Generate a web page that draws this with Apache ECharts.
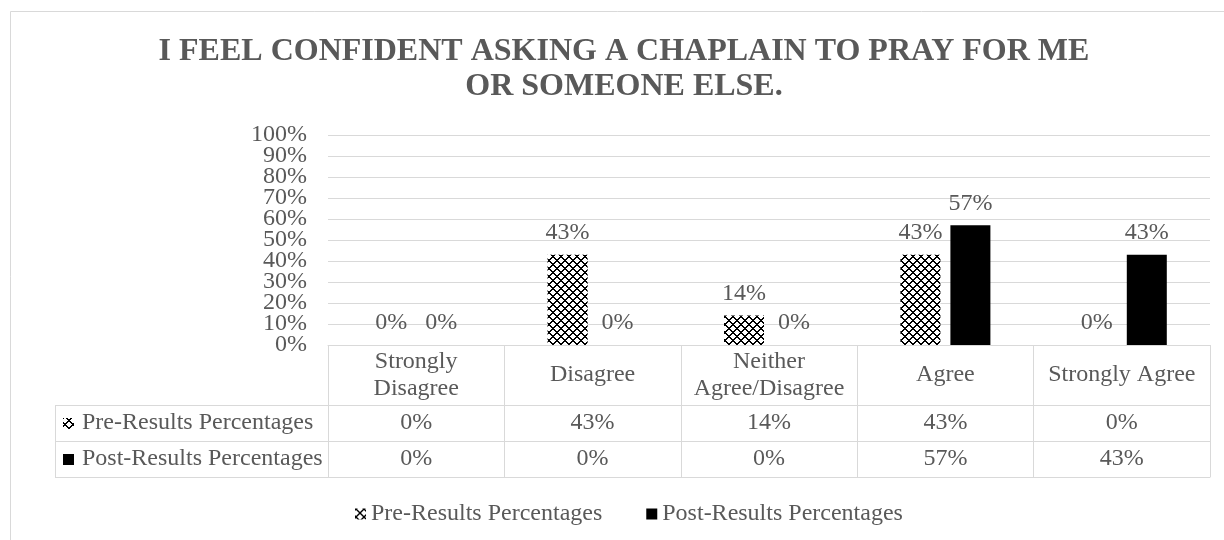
<!DOCTYPE html>
<html>
<head>
<meta charset="utf-8">
<script src="https://cdn.jsdelivr.net/npm/echarts@6/dist/echarts.min.js"></script>
<style>
  html, body { margin: 0; padding: 0; background: #ffffff; }
  #chart { width: 1224px; height: 540px; }
</style>
</head>
<body>
<div id="chart"></div>
<script>
// Survey responses, before and after the programme
const titleText = 'I FEEL CONFIDENT ASKING A CHAPLAIN TO PRAY FOR ME\nOR SOMEONE ELSE.';
const categories = ['Strongly Disagree', 'Disagree', 'Neither Agree/Disagree', 'Agree', 'Strongly Agree'];
const seriesNames = ['Pre-Results Percentages', 'Post-Results Percentages'];
const preValues = [0, 0.43, 0.14, 0.43, 0];
const postValues = [0, 0, 0, 0.57, 0.43];
const yTickLabels = ['0%', '10%', '20%', '30%', '40%', '50%', '60%', '70%', '80%', '90%', '100%'];
const yMax = 1;
const yStep = 0.1;

const FONT = '"Times New Roman", "Liberation Serif", serif';
const TEXT = '#595959';
const RULE = '#d9d9d9';

// Layout of plot and data table
const GRID_LEFT = 328, GRID_RIGHT = 14, PLOT_TOP = 135, AXIS_Y = 345;
const ROW_OFFSETS = [60, 96, 132];          // table row rules below the axis
const TABLE_LEFT = 55, KEY_TEXT_X = 82, KEY_ICON_X = 63;
const HEADER_WIDTH = 166;

const pct = v => Math.round(v * 100) + '%';

// Header cells wrap onto two lines at the first space when too wide
const measureCtx = document.createElement('canvas').getContext('2d');
measureCtx.font = '24px ' + FONT;
function wrapHeader(name) {
  if (measureCtx.measureText(name).width <= HEADER_WIDTH) return name;
  const i = name.indexOf(' ');
  return i < 0 ? name : name.slice(0, i) + '\n' + name.slice(i + 1);
}

// Cross-hatched fill used for the "pre" series
function makeHatch() {
  const c = document.createElement('canvas');
  c.width = 8; c.height = 8;
  const g = c.getContext('2d');
  g.fillStyle = '#ffffff'; g.fillRect(0, 0, 8, 8);
  g.fillStyle = '#000000';
  for (let y = 0; y < 8; y++) {
    for (let x = 0; x < 8; x++) {
      if ((x + y) % 8 < 2 || ((x - y + 8) % 8) < 2) g.fillRect(x, y, 1, 1);
    }
  }
  return c;
}
const hatch = { image: makeHatch(), repeat: 'repeat' };
const seriesFills = [hatch, '#000000'];
const seriesValues = [preValues, postValues];

const textStyle = { fontFamily: FONT, fontSize: 24, color: TEXT };

const chart = echarts.init(document.getElementById('chart'), null, { renderer: 'canvas' });

function tableAxis(offset, values, margin) {
  return {
    type: 'category',
    data: categories,
    position: 'bottom',
    offset: offset,
    axisLine: { show: true, lineStyle: { color: RULE, width: 1 } },
    axisTick: { show: false },
    splitLine: { show: false },
    axisLabel: values ? Object.assign({}, textStyle, {
      interval: 0, margin: margin, verticalAlign: 'middle',
      formatter: (v, i) => pct(values[i])
    }) : { show: false }
  };
}

const rowTop = [AXIS_Y + ROW_OFFSETS[0], AXIS_Y + ROW_OFFSETS[1]];
const rowBottom = [AXIS_Y + ROW_OFFSETS[1], AXIS_Y + ROW_OFFSETS[2]];

const keyGraphics = [];
// Row rules and left edge of the series key column
ROW_OFFSETS.forEach(o => {
  keyGraphics.push({
    type: 'line', silent: true,
    shape: { x1: TABLE_LEFT, y1: AXIS_Y + o + 0.5, x2: GRID_LEFT, y2: AXIS_Y + o + 0.5 },
    style: { stroke: RULE, lineWidth: 1 }
  });
});
keyGraphics.push({
  type: 'line', silent: true,
  shape: { x1: TABLE_LEFT + 0.5, y1: AXIS_Y + ROW_OFFSETS[0], x2: TABLE_LEFT + 0.5, y2: AXIS_Y + ROW_OFFSETS[2] + 1 },
  style: { stroke: RULE, lineWidth: 1 }
});
seriesNames.forEach((name, i) => {
  const mid = (rowTop[i] + rowBottom[i]) / 2;
  keyGraphics.push({
    type: 'rect', silent: true,
    shape: { x: KEY_ICON_X, y: Math.round(mid - 5.5), width: 11, height: 11 },
    style: { fill: seriesFills[i] }
  });
  keyGraphics.push({
    type: 'text', silent: true,
    x: KEY_TEXT_X, y: mid,
    style: { text: name, font: '24px ' + FONT, fill: TEXT, textVerticalAlign: 'middle', textAlign: 'left' }
  });
});

chart.setOption({
  animation: false,
  backgroundColor: '#ffffff',
  grid: { left: GRID_LEFT, right: GRID_RIGHT, top: PLOT_TOP, bottom: 540 - AXIS_Y },
  legend: {
    data: seriesNames,
    left: 355, top: 502,
    itemWidth: 11, itemHeight: 11, itemGap: 44,
    icon: 'rect',
    padding: 0,
    textStyle: textStyle
  },
  xAxis: [
    {
      type: 'category',
      data: categories,
      position: 'bottom',
      axisLine: { show: true, lineStyle: { color: RULE, width: 1 } },
      axisTick: { show: true, interval: 0, length: ROW_OFFSETS[2], lineStyle: { color: RULE, width: 1 } },
      axisLabel: Object.assign({}, textStyle, {
        interval: 0, margin: 30, verticalAlign: 'middle',
        lineHeight: 26.5, align: 'center',
        formatter: v => wrapHeader(v)
      })
    },
    tableAxis(ROW_OFFSETS[0], preValues, 18),
    tableAxis(ROW_OFFSETS[1], postValues, 17.5),
    tableAxis(ROW_OFFSETS[2], null, 0)
  ],
  yAxis: [
    {
      // value scale: gridlines for the bars
      type: 'value',
      position: 'left',
      min: 0, max: yMax, interval: yStep,
      axisLine: { show: false },
      axisTick: { show: false },
      axisLabel: { show: false },
      splitLine: { lineStyle: { color: RULE, width: 1 } }
    },
    {
      // tick labels, one per gridline, all shown
      type: 'category',
      position: 'left',
      data: yTickLabels,
      boundaryGap: false,
      axisLine: { show: false },
      axisTick: { show: false },
      splitLine: { show: false },
      axisLabel: Object.assign({}, textStyle, { interval: 0, margin: 21 })
    }
  ],
  series: seriesNames.map((name, i) => ({
    name: name,
    type: 'bar',
    xAxisIndex: 0,
    yAxisIndex: 0,
    data: seriesValues[i],
    barWidth: 40,
    barGap: '25%',
    itemStyle: { color: seriesFills[i] },
    label: Object.assign({}, textStyle, {
      show: true, position: 'top', distance: 10,
      formatter: p => pct(p.value)
    })
  })),
  graphic: [
    {
      type: 'rect', silent: true, z: -10,
      shape: { x: 10.5, y: 11.5, width: 1240, height: 560 },
      style: { fill: 'none', stroke: RULE, lineWidth: 1 }
    },
    {
      type: 'text', silent: true,
      x: 624, y: 35,
      style: {
        text: titleText, font: 'bold 32px ' + FONT, fill: TEXT,
        textAlign: 'center', textVerticalAlign: 'top', lineHeight: 34.3
      }
    }
  ].concat(keyGraphics)
});
</script>
</body>
</html>
